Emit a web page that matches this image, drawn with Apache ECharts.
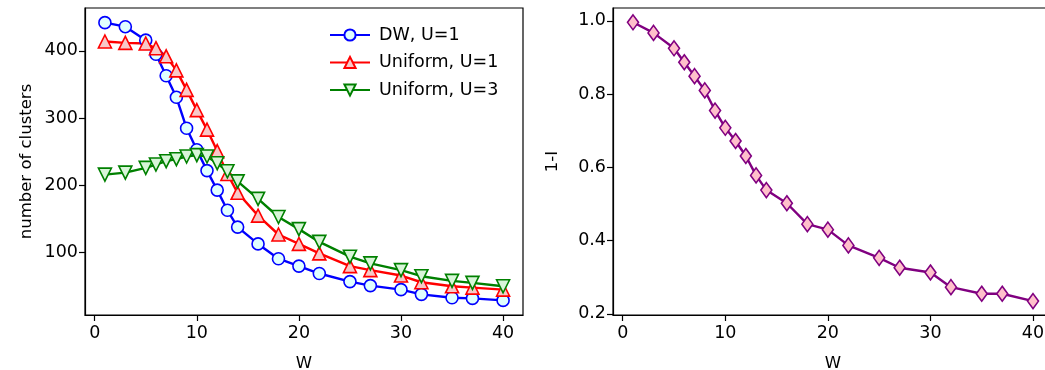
<!DOCTYPE html>
<html>
<head>
<meta charset="utf-8">
<script src="https://cdn.jsdelivr.net/npm/echarts@6/dist/echarts.min.js"></script>
<style>
  html, body { margin: 0; padding: 0; background: #fff; }
  #chart { width: 1045px; height: 370px; }
</style>
</head>
<body>
<div id="chart"></div>
<script>
// W values shared by all curves
const wValues = [1, 3, 5, 6, 7, 8, 9, 10, 11, 12, 13, 14, 16, 18, 20, 22, 25, 27, 30, 32, 35, 37, 40];

// left panel: number of clusters
const dwU1 = [442, 436, 416, 395, 363, 331, 285, 253, 222, 193, 163, 138, 113, 91, 80, 69, 57, 51, 45, 38, 33, 32, 29];
const uniformU1 = [414, 412, 411, 404, 392, 371, 342, 312, 283, 251, 217, 189, 155, 127, 113, 99, 80, 74, 66, 56, 50, 48, 45];
const uniformU3 = [216, 219, 226, 231, 236, 239, 243, 245, 243, 233, 221, 206, 180, 153, 135, 116, 94, 84, 74, 65, 58, 55, 50];

// right panel: 1-I
const oneMinusI = [0.996, 0.967, 0.925, 0.887, 0.849, 0.810, 0.755, 0.708, 0.672, 0.631, 0.578, 0.538, 0.502,
                   0.445, 0.430, 0.387, 0.353, 0.326, 0.313, 0.273, 0.255, 0.255, 0.235];

// tick positions
const wTicks = [0, 10, 20, 30, 40];
const clusterTicks = [100, 200, 300, 400];
const infoTicks = [0.2, 0.4, 0.6, 0.8, 1.0];

const pairs = ys => wValues.map((w, i) => [w, ys[i]]);

const FONT = 'DejaVu Sans';
const axisLineCfg = { show: true, onZero: false, lineStyle: { color: '#000', width: 1.2 } };
const tickCfg = ticks => ({ show: true, length: 6, customValues: ticks, lineStyle: { color: '#000', width: 1.2 } });
const nameStyle = { fontFamily: FONT, fontSize: 16.5, color: '#000' };

function xAxisCfg(gridIndex) {
  return {
    type: 'value', gridIndex, min: -0.95, max: 41.95,
    name: 'W', nameLocation: 'middle', nameGap: 40, nameTextStyle: nameStyle,
    axisLine: axisLineCfg,
    axisTick: tickCfg(wTicks),
    axisLabel: { fontFamily: FONT, fontSize: 17.5, color: '#000', margin: 9, customValues: wTicks },
    splitLine: { show: false }
  };
}

function mkSeries(name, ys, symbol, lineColor, fill, extra) {
  return Object.assign({
    name, type: 'line', data: pairs(ys), symbol, symbolSize: 12,
    lineStyle: { color: lineColor, width: 2.4 },
    itemStyle: { color: fill, borderColor: lineColor, borderWidth: 1.6 },
    emphasis: { disabled: true }, animation: false, z: 3
  }, extra || {});
}

const chart = echarts.init(document.getElementById('chart'));
chart.setOption({
  animation: false,
  grid: [
    { left: 85, top: 8, width: 438, height: 307, show: true, borderColor: '#000', borderWidth: 1.2,
      outerBoundsMode: 'none', containLabel: false },
    { left: 613, top: 8, width: 440, height: 307, show: true, borderColor: '#000', borderWidth: 1.2,
      outerBoundsMode: 'none', containLabel: false }
  ],
  legend: {
    left: 324, top: 21, orient: 'vertical', itemWidth: 40, itemHeight: 14, itemGap: 9.5,
    textStyle: { fontFamily: FONT, fontSize: 17.5, color: '#000', padding: [0, 0, 0, 4] },
    data: ['DW, U=1', 'Uniform, U=1', 'Uniform, U=3']
  },
  xAxis: [xAxisCfg(0), xAxisCfg(1)],
  yAxis: [
    {
      type: 'value', gridIndex: 0, min: 7.3, max: 463.8,
      name: 'number of clusters', nameLocation: 'middle', nameGap: 50, nameTextStyle: nameStyle,
      axisLine: axisLineCfg,
      axisTick: tickCfg(clusterTicks),
      axisLabel: { fontFamily: FONT, fontSize: 17.5, color: '#000', margin: 7, customValues: clusterTicks },
      splitLine: { show: false }
    },
    {
      type: 'value', gridIndex: 1, min: 0.197, max: 1.035,
      name: '1-I', nameLocation: 'middle', nameGap: 52, nameTextStyle: nameStyle,
      axisLine: axisLineCfg,
      axisTick: tickCfg(infoTicks),
      axisLabel: { fontFamily: FONT, fontSize: 17.5, color: '#000', margin: 7, customValues: infoTicks,
                   formatter: v => v.toFixed(1) },
      splitLine: { show: false }
    }
  ],
  series: [
    mkSeries('DW, U=1', dwU1, 'circle', '#0000ff', '#e0ffff'),
    mkSeries('Uniform, U=1', uniformU1, 'triangle', '#ff0000', '#f8c8c8', { symbolSize: 13 }),
    mkSeries('Uniform, U=3', uniformU3, 'triangle', '#008000', '#d8f5d8', { symbolSize: 13, symbolRotate: 180 }),
    mkSeries('1-I', oneMinusI, 'diamond', '#800080', '#ffc0cb',
             { xAxisIndex: 1, yAxisIndex: 1, symbolSize: [11, 15] })
  ]
});
</script>
</body>
</html>
